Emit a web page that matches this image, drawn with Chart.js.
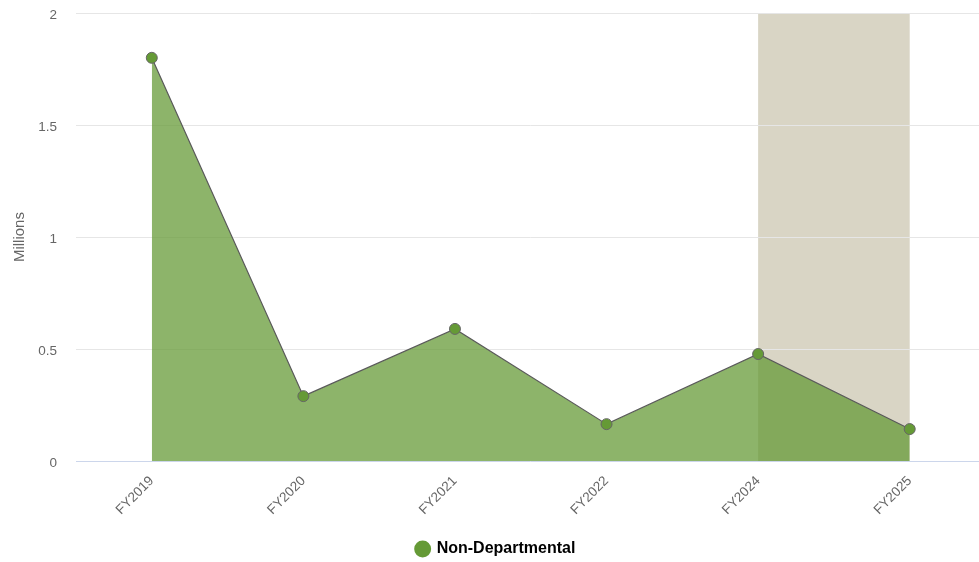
<!DOCTYPE html>
<html>
<head>
<meta charset="utf-8">
<script src="https://cdn.jsdelivr.net/npm/chart.js@4.4.1/dist/chart.umd.min.js"></script>
<style>
  html, body { margin: 0; padding: 0; background: #fff; }
  #wrap { width: 979px; height: 562px; overflow: hidden; }
  #box { width: 992px; height: 567px; position: relative; }
</style>
</head>
<body>
<div id="wrap"><div id="box"><canvas id="grafico"></canvas></div></div>
<script>
const categorias = ['FY2019', 'FY2020', 'FY2021', 'FY2022', 'FY2024', 'FY2025'];
const valores = [1.8, 0.29, 0.59, 0.165, 0.478, 0.143];
const serie = 'Non-Departmental';
const banda = { desde: 'FY2024', hasta: 'FY2025' };
const yTicks = [0, 0.5, 1, 1.5, 2];

const verde = 'rgb(101,154,54)';
const familia = 'Liberation Sans, Arial, sans-serif';

// franja de fondo entre dos categorias
const franja = {
  id: 'franja',
  beforeDraw(chart) {
    const { ctx, chartArea, scales } = chart;
    const x1 = scales.x.getPixelForValue(categorias.indexOf(banda.desde));
    const x2 = scales.x.getPixelForValue(categorias.indexOf(banda.hasta));
    ctx.save();
    ctx.fillStyle = '#d9d5c5';
    ctx.fillRect(x1, chartArea.top, x2 - x1, chartArea.bottom - chartArea.top);
    ctx.restore();
  }
};

const fuente = { family: familia, size: 13.5 };

new Chart(document.getElementById('grafico').getContext('2d'), {
  type: 'line',
  data: {
    labels: categorias,
    datasets: [{
      label: serie,
      data: valores,
      fill: 'origin',
      backgroundColor: 'rgba(101,154,54,0.74)',
      borderColor: '#5a5a5a',
      borderWidth: 1.2,
      tension: 0,
      pointRadius: 5.5,
      pointBackgroundColor: verde,
      pointBorderColor: '#666',
      pointBorderWidth: 1
    }]
  },
  options: {
    responsive: true,
    maintainAspectRatio: false,
    animation: false,
    layout: { padding: { top: 13, bottom: 0 } },
    scales: {
      x: {
        offset: true,
        afterFit: ax => { ax.height += 17; },
        grid: { display: false },
        border: { display: false },
        ticks: { color: '#666', font: fuente, maxRotation: 45, minRotation: 45, padding: 4 }
      },
      y: {
        min: 0, max: 2,
        afterBuildTicks: ax => { ax.ticks = yTicks.map(v => ({ value: v })); },
        afterFit: ax => { ax.width = 76; },
        grid: {
          drawTicks: true,
          tickLength: 19,
          tickColor: 'rgba(0,0,0,0)',
          color: c => c.tick && c.tick.value === 0 ? '#ccd6eb' : '#e6e6e6'
        },
        border: { display: false },
        ticks: { color: '#666', font: fuente, padding: 0, labelOffset: 2, callback: v => String(v) },
        title: { display: true, text: 'Millions', color: '#666', font: { family: familia, size: 15 }, padding: { top: 11, bottom: 0 } }
      }
    },
    plugins: {
      tooltip: { enabled: false },
      legend: {
        position: 'bottom',
        labels: {
          usePointStyle: true,
          pointStyle: 'circle',
          boxWidth: 12,
          boxHeight: 12,
          color: '#333',
          font: { family: familia, size: 16, weight: 'bold' },
          padding: 2,
          generateLabels: chart => [{
            text: serie, fillStyle: verde, strokeStyle: verde, lineWidth: 0,
            pointStyle: 'circle', datasetIndex: 0, hidden: false
          }]
        }
      }
    }
  },
  plugins: [franja]
});
</script>
</body>
</html>
